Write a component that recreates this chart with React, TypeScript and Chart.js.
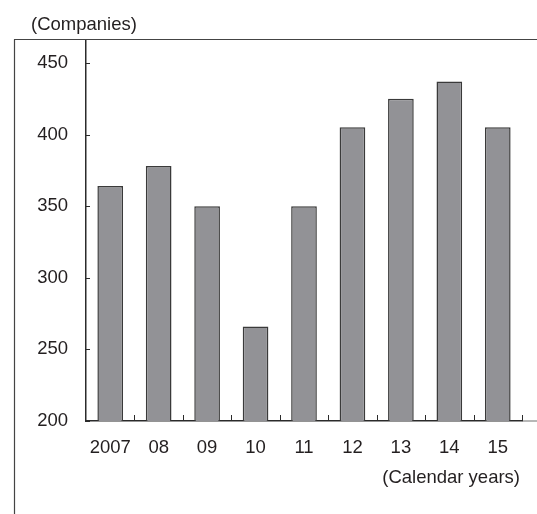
import React, { useEffect, useRef } from "react";
import { Chart, registerables } from "chart.js";

Chart.register(...registerables);

const categories = ["2007", "08", "09", "10", "11", "12", "13", "14", "15"];
const companies = [364, 378, 350, 266, 350, 405, 425, 437, 405];
const yTickValues = [200, 250, 300, 350, 400, 450];
const yUnitLabel = "(Companies)";
const xUnitLabel = "(Calendar years)";

const FONT = "'Liberation Sans', Arial, Helvetica, sans-serif";
const FSIZE = 18.5;
const TEXT = "#231f20";
const AXIS = "#2b2b2b";

const decorPlugin = {
  id: "decor",
  afterDraw(chart: any) {
    const ctx = chart.ctx;
    const area = chart.chartArea;
    const xs = chart.scales.x;
    const ys = chart.scales.y;
    ctx.save();
    ctx.strokeStyle = "#444";
    ctx.lineWidth = 1.2;
    ctx.beginPath();
    ctx.moveTo(14, 39.5);
    ctx.lineTo(chart.width, 39.5);
    ctx.moveTo(14.5, 39.5);
    ctx.lineTo(14.5, chart.height);
    ctx.stroke();
    ctx.strokeStyle = "#888";
    ctx.lineWidth = 1.2;
    ctx.beginPath();
    ctx.moveTo(area.right, area.bottom);
    ctx.lineTo(chart.width, area.bottom);
    ctx.stroke();
    ctx.strokeStyle = AXIS;
    ctx.lineWidth = 1;
    ctx.beginPath();
    ys.ticks.forEach((t: any) => {
      const y = Math.round(ys.getPixelForValue(t.value)) + 0.5;
      ctx.moveTo(area.left, y);
      ctx.lineTo(area.left + 4, y);
    });
    const step = xs.getPixelForValue(1) - xs.getPixelForValue(0);
    for (let i = 0; i < categories.length; i++) {
      const x = Math.round(xs.getPixelForValue(i) + step / 2) + 0.5;
      ctx.moveTo(x, area.bottom);
      ctx.lineTo(x, area.bottom - 6);
    }
    ctx.stroke();
    ctx.fillStyle = TEXT;
    ctx.font = `${FSIZE}px ${FONT}`;
    ctx.textBaseline = "middle";
    ctx.textAlign = "left";
    ctx.fillText(yUnitLabel, 31, 25);
    ctx.textAlign = "right";
    ctx.fillText(xUnitLabel, 520, 478);
    ctx.restore();
  },
};

export default function App() {
  const ref = useRef<HTMLCanvasElement>(null);
  useEffect(() => {
    document.body.style.margin = "0";
    const chart = new Chart(ref.current as HTMLCanvasElement, {
      type: "bar",
      data: {
        labels: categories,
        datasets: [
          {
            data: companies,
            backgroundColor: "#929296",
            borderColor: "#3a3a3a",
            borderWidth: 1.5,
            barPercentage: 0.53,
            categoryPercentage: 1,
          },
        ],
      },
      options: {
        animation: false,
        responsive: false,
        layout: { padding: { top: 40, right: 15, left: 0, bottom: 0 } },
        plugins: { legend: { display: false }, tooltip: { enabled: false } },
        scales: {
          x: {
            grid: { display: false },
            border: { display: true, color: AXIS, width: 1.5 },
            ticks: { color: TEXT, font: { family: FONT, size: FSIZE }, padding: 8, maxRotation: 0 },
            afterFit: (s: any) => {
              s.height = 93;
            },
          },
          y: {
            min: 200,
            max: 466,
            grid: { display: false },
            border: { display: true, color: AXIS, width: 1.5 },
            ticks: { color: TEXT, font: { family: FONT, size: FSIZE }, padding: 10, stepSize: 50 },
            afterBuildTicks: (s: any) => {
              s.ticks = yTickValues.map((v) => ({ value: v }));
            },
            afterFit: (s: any) => {
              s.width = 86;
            },
          },
        },
      },
      plugins: [decorPlugin],
    });
    return () => chart.destroy();
  }, []);
  return <canvas ref={ref} width={537} height={514} style={{ display: "block", width: 537, height: 514 }} />;
}
